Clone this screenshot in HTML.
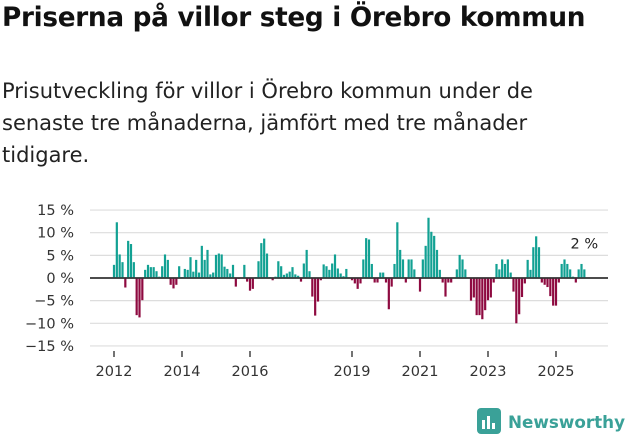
<!DOCTYPE html>
<html><head><meta charset="utf-8">
<style>
body{margin:0;width:631px;height:439px;background:#fff;font-family:"Liberation Sans","DejaVu Sans",sans-serif;overflow:hidden;position:relative}
h1{position:absolute;left:2px;top:3px;margin:0;font-size:26.3px;font-weight:bold;color:#111;font-family:"DejaVu Sans","Liberation Sans",sans-serif;letter-spacing:-0.3px;white-space:nowrap}
p.sub{position:absolute;left:2px;top:75px;margin:0;font-size:21px;line-height:32px;color:#222;font-family:"DejaVu Sans","Liberation Sans",sans-serif;width:560px}
svg{position:absolute;left:0;top:0}
</style></head><body>
<h1>Priserna på villor steg i Örebro kommun</h1>
<p class="sub">Prisutveckling för villor i Örebro kommun under de senaste tre månaderna, jämfört med tre månader tidigare.</p>
<svg id="chart" width="631" height="439"></svg>
<script>
const startYear = 2012;
const yTicks = [15,10,5,0,-5,-10,-15];
const xTickYears = [2012,2014,2016,2019,2021,2023,2025];
const values = [
2.9,12.3,5.2,3.5,-2.1,8.2,7.5,3.5,-8.2,-8.7,-4.9,1.8,
2.9,2.4,2.4,1.5,0.3,2.6,5.2,4.0,-1.5,-2.3,-1.5,2.6,
0.2,2.0,1.8,4.6,1.4,4.0,1.2,7.1,4.0,6.2,0.8,1.2,
5.1,5.4,5.2,2.5,2.0,1.0,2.9,-1.9,-0.2,0,2.9,-0.8,
-2.8,-2.4,0.2,3.7,7.7,8.7,5.4,0.2,-0.5,0.3,3.7,2.6,
0.7,1.0,1.4,2.4,0.8,0.5,-0.8,3.2,6.2,1.5,-4.1,-8.3,
-5.2,-0.5,3.0,2.6,1.8,3.2,5.2,2.1,1.0,0.4,2.0,-0.1,
-0.5,-1.2,-2.4,-1.2,4.1,8.8,8.5,3.1,-1.0,-1.0,1.2,1.2,
-1.0,-6.9,-1.9,3.1,12.3,6.2,4.1,-1.0,4.1,4.1,1.9,0,
-3.0,4.1,7.1,13.3,10.2,9.3,6.2,1.8,-1.0,-4.1,-1.0,-1.0,
0,1.9,5.1,4.1,1.9,0,-5.0,-4.3,-8.2,-8.2,-9.1,-7.1,
-4.9,-4.3,-1.0,3.1,1.9,4.1,3.1,4.1,1.2,-3.0,-10.0,-8.0,
-4.2,-1.2,4.0,1.8,6.8,9.2,6.8,-1.0,-1.5,-2.0,-4.0,-6.1,
-6.1,-1.0,3.1,4.1,3.1,1.9,0.3,-1.0,1.9,3.1,1.9
];
const lastLabel = "2 %";
const NS="http://www.w3.org/2000/svg";
const svg=document.getElementById('chart');
const x0=114, pxYear=34, yZero=278, pxPct=4.53;
function xPos(i){return x0+(i/12)*pxYear;}
function yPos(v){return yZero-v*pxPct;}
function mk(t,a){const e=document.createElementNS(NS,t);for(const k in a)e.setAttribute(k,a[k]);svg.appendChild(e);return e;}
yTicks.forEach(t=>{
  const g=mk('line',{x1:90,x2:608,y1:yPos(t),y2:yPos(t),stroke:t===0?'#333':'#ddd','stroke-width':t===0?1.6:1.2});
  
  
  const l=mk('text',{x:74,y:yPos(t)+5,'text-anchor':'end','font-size':14.5,fill:'#333','font-family':'"DejaVu Sans","Liberation Sans",sans-serif'});
  l.textContent=(t<0?'−'+(-t):t)+' %';
  
  
});
values.forEach((v,i)=>{
  const x=xPos(i);
  const r=mk('rect',{x:x-1.1,width:2.2,y:v>=0?yPos(v):yZero,height:Math.abs(v)*pxPct,fill:v>=0?'#12a193':'#8e0a40'});
  
  
});
mk('line',{x1:90,x2:608,y1:yZero,y2:yZero,stroke:'#333','stroke-width':1.6});
xTickYears.forEach(yr=>{
  const x=xPos((yr-startYear)*12);
  const t=mk('line',{x1:x,x2:x,y1:351,y2:357,stroke:'#444','stroke-width':1.5});
  
  
  const l=mk('text',{x:x,y:376,'text-anchor':'middle','font-size':14.5,fill:'#333','font-family':'"DejaVu Sans","Liberation Sans",sans-serif'});
  l.textContent=yr;
  
  
});
const li=values.length-1;
const ll=mk('text',{x:xPos(li),y:yPos(values[li])-21,'text-anchor':'middle','font-size':14.5,fill:'#222','font-family':'"DejaVu Sans","Liberation Sans",sans-serif'});
ll.textContent=lastLabel;


</script>
<svg width="631" height="439" style="pointer-events:none">
<rect x="477" y="408" width="24" height="26" rx="4" fill="#3aa198"/>
<rect x="482" y="420" width="3" height="9" fill="#fff"/><rect x="487" y="416" width="3" height="13" fill="#fff"/><rect x="492" y="423" width="3" height="6" fill="#fff"/>
<text x="508" y="428" font-size="17" font-weight="bold" fill="#3aa198" font-family="DejaVu Sans, Liberation Sans, sans-serif" textLength="117" lengthAdjust="spacingAndGlyphs">Newsworthy</text>
</svg>
</body></html>
